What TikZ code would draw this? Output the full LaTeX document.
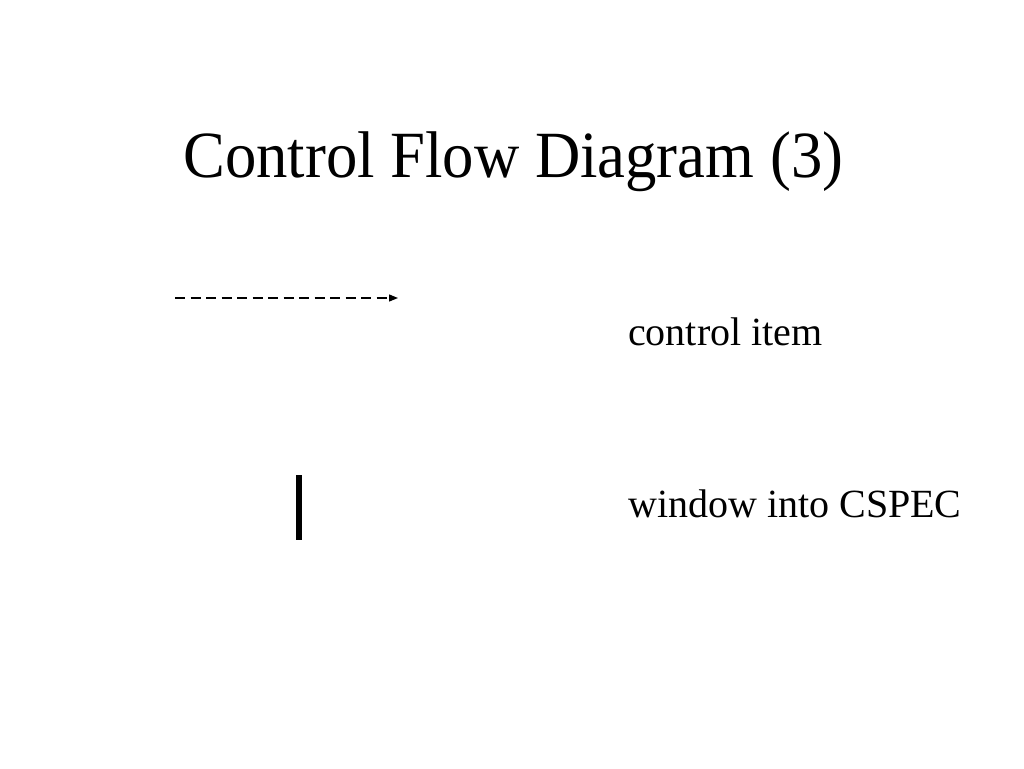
\documentclass[tikz,border=0pt]{standalone}
\usepackage{fontspec}
\setmainfont{Liberation Serif}
\usetikzlibrary{arrows.meta}
\begin{document}
\begin{tikzpicture}[x=1pt,y=-1pt,
  label/.style={inner sep=0pt,anchor=base west,font=\fontsize{40}{48}\selectfont},
  flowline/.style={line width=1.3pt,dash pattern=on 10pt off 5.5pt,-{Triangle[length=9pt,width=7pt]}}]
\useasboundingbox (0,0) rectangle (1024,768);
\fill[white] (0,0) rectangle (1024,768);
\node[inner sep=0pt,anchor=base west,font=\fontsize{66}{78}\selectfont] (title) at (183,177) {\scalebox{0.95}[1]{Control Flow Diagram (3)}};
\coordinate (cs) at (175,298);
\coordinate (ce) at (398,298);
\draw[flowline] (cs) -- (ce);
\node[label] (ci) at (628,345) {control item};
\fill (296,475) rectangle (302,540);
\node[label] (wc) at (628,517) {window into CSPEC};
\end{tikzpicture}
\end{document}
